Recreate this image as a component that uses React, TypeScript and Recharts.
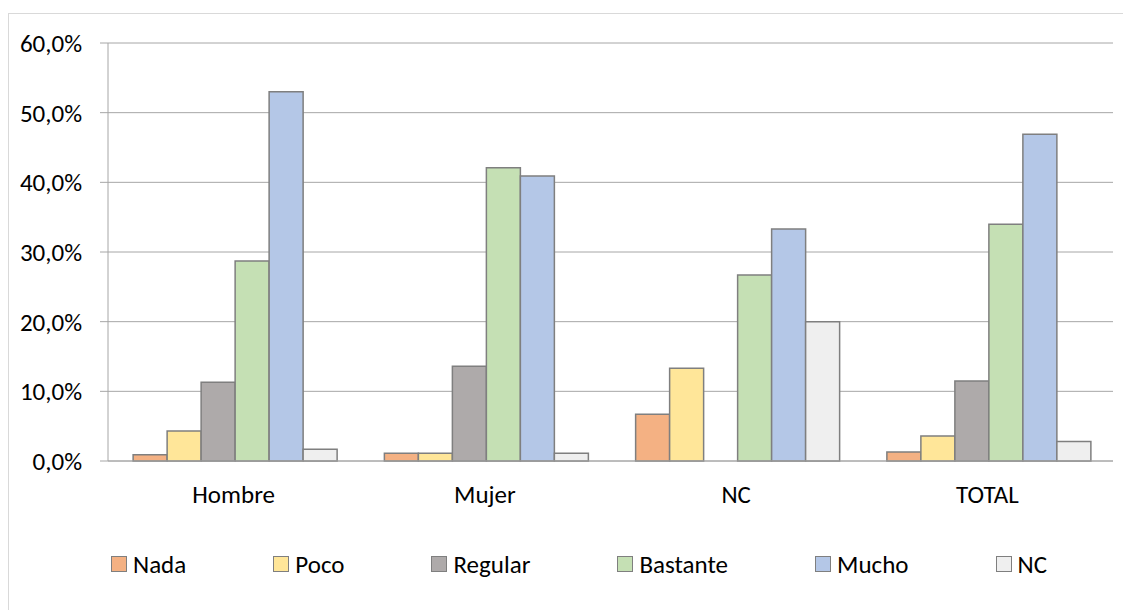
import { BarChart, Bar, XAxis, YAxis, CartesianGrid, Legend } from 'recharts';

const categories = ['Hombre', 'Mujer', 'NC', 'TOTAL'];
const nada = [0.9, 1.1, 6.7, 1.3];
const poco = [4.3, 1.1, 13.3, 3.6];
const regular = [11.3, 13.6, 0, 11.5];
const bastante = [28.7, 42.1, 26.7, 34.0];
const mucho = [53.0, 40.9, 33.3, 46.9];
const nc = [1.7, 1.1, 20.0, 2.8];
const yTicks = [0, 10, 20, 30, 40, 50, 60];
const boundaryTicks = [0, 1, 2, 3, 4];

const series = [
  { key: 'nada', name: 'Nada', color: '#F4B183' },
  { key: 'poco', name: 'Poco', color: '#FFE699' },
  { key: 'regular', name: 'Regular', color: '#AEAAAA' },
  { key: 'bastante', name: 'Bastante', color: '#C5E0B4' },
  { key: 'mucho', name: 'Mucho', color: '#B4C7E7' },
  { key: 'nc', name: 'NC', color: '#EFEFEF' },
];

const data = categories.map((c, i) => ({
  cat: c,
  idx: i + 0.5,
  nada: nada[i],
  poco: poco[i],
  regular: regular[i],
  bastante: bastante[i],
  mucho: mucho[i],
  nc: nc[i],
}));

const FONT = 'Carlito, Calibri, Lato, sans-serif';
const GRID = '#a6a6a6';

const fmt = (v: number) => v.toFixed(1).replace('.', ',') + '%';

function LegendBox() {
  return (
    <div
      style={{
        display: 'flex',
        justifyContent: 'space-between',
        alignItems: 'center',
        width: 936,
        height: 30,
        marginLeft: 102,
        fontFamily: FONT,
        fontSize: 25,
        color: '#000',
      }}
    >
      {series.map((s) => (
        <div key={s.key} style={{ display: 'flex', alignItems: 'center' }}>
          <span
            style={{
              display: 'inline-block',
              width: 14,
              height: 14,
              background: s.color,
              border: '1px solid #7f7f7f',
              marginRight: 6,
            }}
          />
          <span>{s.name}</span>
        </div>
      ))}
    </div>
  );
}

export default function App() {
  return (
    <div
      style={{
        marginTop: 5,
        width: 1125,
        height: 600,
        border: '1px solid #d9d9d9',
        background: '#fff',
      }}
    >
      <BarChart
        width={1123}
        height={598}
        data={data}
        margin={{ top: 29, right: 19, bottom: 51, left: 0 }}
        barCategoryGap="10%"
        barGap={0}
      >
        <CartesianGrid vertical={false} stroke={GRID} xAxisId="cat" />
        <XAxis
          xAxisId="b"
          type="number"
          dataKey="idx"
          domain={[0, 4]}
          ticks={boundaryTicks}
          tick={false}
          tickLine={{ stroke: GRID }}
          tickSize={8}
          axisLine={false}
          height={0}
        />
        <XAxis
          xAxisId="cat"
          dataKey="cat"
          axisLine={{ stroke: GRID }}
          tickLine={false}
          tickSize={0}
          tickMargin={24}
          height={70}
          tick={{ fill: '#000', fontSize: 25, fontFamily: FONT }}
        />
        <YAxis
          width={99}
          domain={[0, 60]}
          ticks={yTicks}
          tickFormatter={fmt}
          axisLine={{ stroke: GRID }}
          tickLine={{ stroke: GRID }}
          tickSize={8}
          tickMargin={18}
          tick={{ fill: '#000', fontSize: 25, fontFamily: FONT }}
        />
        <Legend
          verticalAlign="bottom"
          content={() => <LegendBox />}
          wrapperStyle={{ bottom: 33, left: 0 }}
        />
        {series.map((s) => (
          <Bar
            key={s.key}
            xAxisId="cat"
            dataKey={s.key}
            name={s.name}
            fill={s.color}
            stroke="#7f7f7f"
            strokeWidth={1.5}
            isAnimationActive={false}
          />
        ))}
      </BarChart>
    </div>
  );
}
